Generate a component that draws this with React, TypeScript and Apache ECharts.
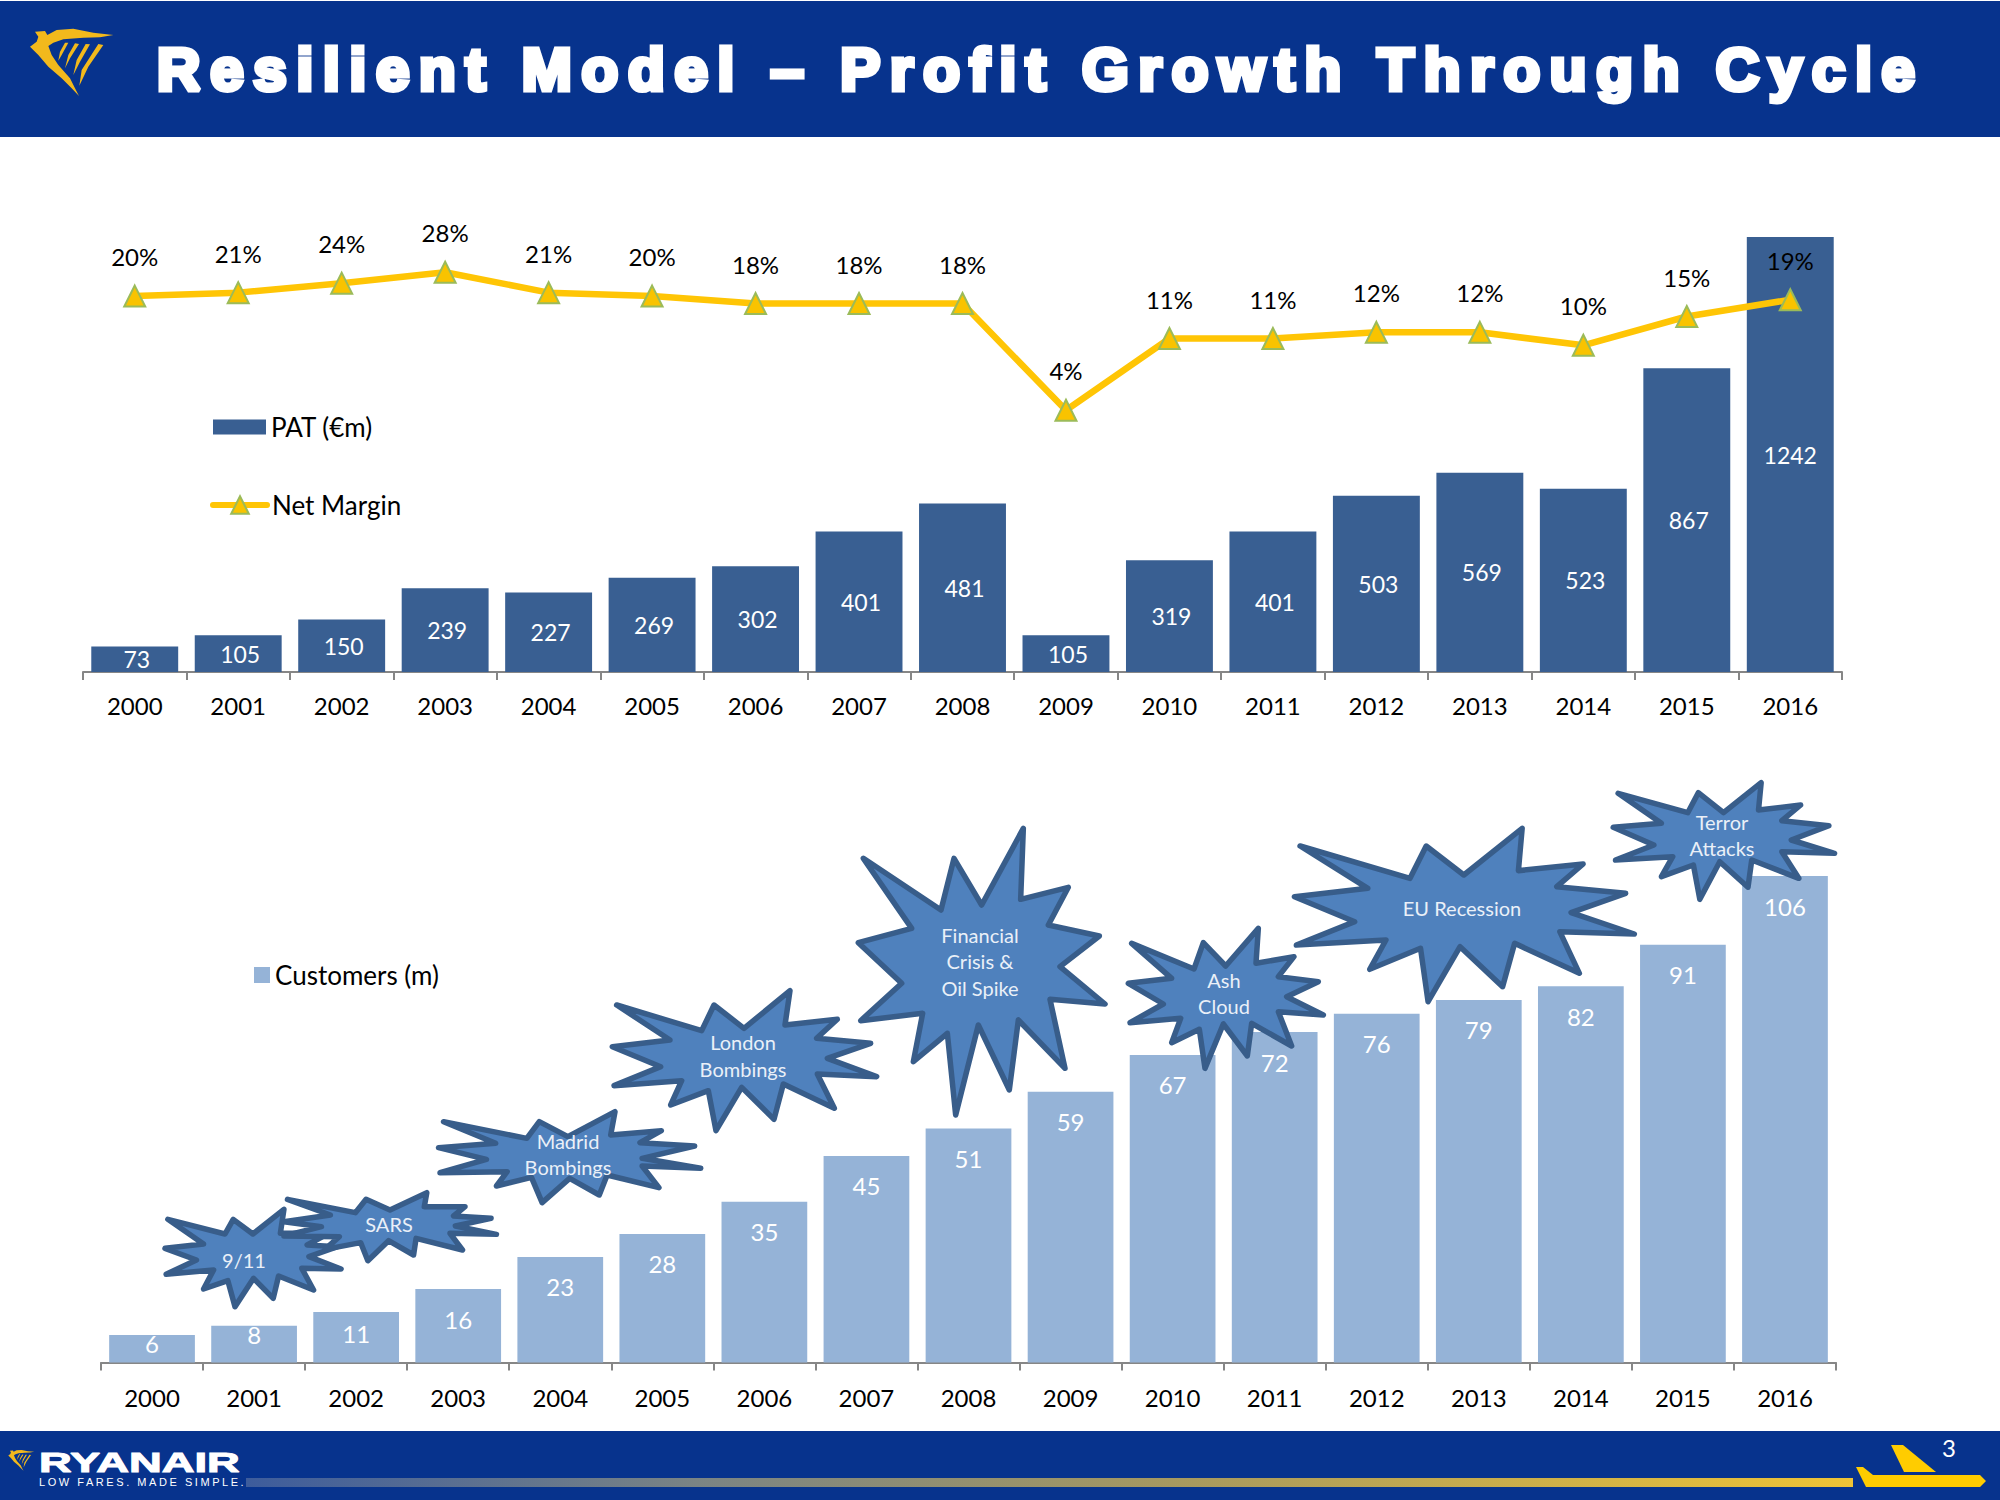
import React, { useEffect, useRef } from "react";
import * as echarts from "echarts";

const TITLE = "Resilient Model – Profit Growth Through Cycle";
const TAGLINE = "LOW FARES. MADE SIMPLE.";
const years = ["2000","2001","2002","2003","2004","2005","2006","2007","2008","2009","2010","2011","2012","2013","2014","2015","2016"];
const patValues = [73,105,150,239,227,269,302,401,481,105,319,401,503,569,523,867,1242];
const netMargin = [20,21,24,28,21,20,18,18,18,4,11,11,12,12,10,15,19];
const customers = [6,8,11,16,23,28,35,45,51,59,67,72,76,79,82,91,106];
const PAT = "PAT (€m)";
const NET = "Net Margin";
const CUST = "Customers (m)";

const FONT = "Lato";
const NAVY = "#07338D";
const GOLD = "#FFC505";

type Zoom = { ox: number; oy: number; sx: number; sy: number };
const conv = (z: Zoom, pts: number[][]) => pts.map(([x, y]) => [z.ox + x / z.sx, z.oy + y / z.sy]);

const Z5: Zoom = { ox: 830, oy: 800, sx: 3, sy: 3 };
const Z6: Zoom = { ox: 1270, oy: 760, sx: 2.657, sy: 3 };
const Z7: Zoom = { ox: 150, oy: 1090, sx: 2.8, sy: 3 };
const Z8: Zoom = { ox: 590, oy: 960, sx: 3, sy: 3 };
const ZH: Zoom = { ox: 20, oy: 20, sx: 3, sy: 3 };

const starShapes: { z: Zoom; pts: number[][] }[] = [
  { z: Z7, pts: [[375,358],[365,430],[500,430],[440,465],[525,470],[445,500],[535,537],[425,535],[458,600],[360,558],[345,625],[290,565],[238,650],[218,572],[150,597],[178,540],[45,553],[130,510],[42,475],[150,462],[50,388],[210,432],[233,388],[288,432]] },
  { z: Z7, pts: [[775,308],[768,350],[882,350],[850,378],[955,385],[855,408],[970,433],[840,430],[875,480],[745,445],[738,495],[668,452],[610,512],[590,458],[490,478],[530,440],[375,438],[480,410],[375,395],[505,375],[385,328],[575,368],[605,328],[672,360]] },
  { z: Z7, pts: [[1302,65],[1290,135],[1432,122],[1372,158],[1525,168],[1378,205],[1542,235],[1378,228],[1425,293],[1280,255],[1258,315],[1175,265],[1098,338],[1068,262],[970,288],[1000,245],[812,248],[942,208],[808,173],[968,160],[822,95],[1055,145],[1090,95],[1170,140]] },
  { z: Z8, pts: [[600,92],[585,195],[742,178],[680,235],[842,250],[712,295],[860,350],[682,342],[733,445],[580,372],[552,478],[455,382],[378,512],[355,392],[242,435],[275,362],[72,377],[212,320],[67,260],[240,240],[80,135],[335,212],[372,135],[462,205]] },
  { z: Z5, pts: [[580,85],[572,298],[715,262],[655,375],[808,408],[690,500],[825,612],[660,598],[705,805],[565,660],[538,870],[445,675],[377,945],[352,700],[250,785],[278,640],[92,662],[215,550],[85,428],[245,385],[100,175],[333,330],[372,175],[455,315]] },
  { z: Z5, pts: [[1285,385],[1278,490],[1392,470],[1345,530],[1465,545],[1370,590],[1480,645],[1345,635],[1385,738],[1265,670],[1252,768],[1180,672],[1125,805],[1108,688],[1025,728],[1052,655],[900,668],[1000,612],[895,550],[1025,535],[905,430],[1092,507],[1120,428],[1187,498]] },
  { z: Z6, pts: [[670,205],[660,332],[832,312],[762,380],[945,400],[800,458],[968,522],[770,515],[822,640],[650,550],[618,680],[505,560],[420,725],[400,565],[265,628],[308,540],[70,555],[225,485],[65,410],[260,385],[80,258],[372,355],[415,258],[515,345]] },
  { z: Z6, pts: [[1305,68],[1298,150],[1410,135],[1360,182],[1485,197],[1385,240],[1500,280],[1360,275],[1405,355],[1280,300],[1270,382],[1195,305],[1142,418],[1125,315],[1040,350],[1070,290],[918,300],[1020,255],[912,202],[1040,190],[925,100],[1110,158],[1138,98],[1205,158]] },
];

const starTexts: { t: string; x: number; y: number }[] = [
  { t: "9/11", x: 244, y: 1260 },
  { t: "SARS", x: 389, y: 1224 },
  { t: "Madrid", x: 568, y: 1141 },
  { t: "Bombings", x: 568, y: 1167 },
  { t: "London", x: 743, y: 1042 },
  { t: "Bombings", x: 743, y: 1069 },
  { t: "Financial", x: 980, y: 935 },
  { t: "Crisis &", x: 980, y: 961 },
  { t: "Oil Spike", x: 980, y: 988 },
  { t: "Ash", x: 1224, y: 980 },
  { t: "Cloud", x: 1224, y: 1006 },
  { t: "EU Recession", x: 1462, y: 908 },
  { t: "Terror", x: 1722, y: 822 },
  { t: "Attacks", x: 1722, y: 848 },
];

const harpParts: number[][][] = [
  [[45,35],[75,33],[82,45],[110,30],[160,26],[220,38],[280,45],[240,52],[190,53],[130,58],[100,68],[85,78],[95,105],[115,135],[150,175],[165,205],[177,228],[155,205],[125,175],[85,140],[55,105],[30,80],[50,65],[55,50]],
  [[135,68],[145,68],[125,105],[115,122],[120,95]],
  [[165,70],[177,72],[150,115],[135,145],[145,105]],
  [[197,72],[210,73],[180,125],[160,165],[170,120]],
  [[235,72],[250,75],[205,140],[178,197],[185,150]],
];
const harp = (x: number, y: number, s: number) => ({
  type: "group",
  x, y, scaleX: s, scaleY: s,
  children: harpParts.map((p) => ({ type: "polygon", z: 3, shape: { points: conv(ZH, p) }, style: { fill: "#F2B91C" } })),
});

export default function App() {
  const ref = useRef<HTMLDivElement>(null);
  useEffect(() => {
    const chart = echarts.init(ref.current!, undefined, { renderer: "svg" });
    const legendText = { fontFamily: FONT, fontSize: 26, color: "#000" };
    const axisCommon = {
      type: "category" as const,
      data: years,
      axisLine: { lineStyle: { color: "#868686", width: 2 } },
      axisTick: { show: true, alignWithLabel: false, length: 8, lineStyle: { color: "#868686", width: 2 } },
    };
    const axisLabel = { fontFamily: FONT, fontSize: 24, color: "#000", interval: 0 };
    chart.setOption({
      animation: false,
      backgroundColor: "#fff",
      title: {
        text: TITLE, left: 157, top: 39, padding: 0,
        textStyle: { fontFamily: "Liberation Sans", fontSize: 60, fontWeight: "bold", color: "#fff", textBorderColor: "#fff", textBorderWidth: 5 },
      },
      grid: [
        { left: 83, width: 1759, top: 237, height: 435 },
        { left: 101, width: 1735, top: 876, height: 486.5 },
      ],
      xAxis: [
        { ...axisCommon, gridIndex: 0, axisLabel: { ...axisLabel, margin: 21 } },
        { ...axisCommon, gridIndex: 1, axisLabel: { ...axisLabel, margin: 23 } },
      ],
      yAxis: [
        { type: "value", gridIndex: 0, min: 0, max: 1242, show: false, splitLine: { show: false } },
        { type: "log", gridIndex: 0, min: 0.1, max: 46, show: false, splitLine: { show: false } },
        { type: "value", gridIndex: 1, min: 0, max: 106, show: false, splitLine: { show: false } },
      ],
      legend: [
        {
          left: 213, top: 414, padding: 0, itemWidth: 53, itemHeight: 15,
          selectedMode: false, textStyle: legendText,
          data: [{ name: PAT, icon: "rect" }],
        },
        {
          left: 210, top: 492, padding: 0, itemWidth: 54, itemHeight: 22,
          selectedMode: false, textStyle: legendText, lineStyle: { width: 6, cap: "round" },
          data: [{ name: NET }],
        },
        {
          left: 254, top: 962, padding: 0, itemWidth: 16, itemHeight: 16,
          selectedMode: false, textStyle: legendText,
          data: [{ name: CUST, icon: "rect" }],
        },
      ],
      series: [
        {
          name: PAT, type: "bar", xAxisIndex: 0, yAxisIndex: 0,
          data: patValues.map((v) => (v > 1000 ? { value: v, label: { offset: [0, 0] } } : v)),
          barCategoryGap: "16%", itemStyle: { color: "#395F92" },
          label: { show: true, position: "inside", offset: [2, 0], color: "#fff", fontFamily: FONT, fontSize: 23 },
        },
        {
          name: NET, type: "line", xAxisIndex: 0, yAxisIndex: 1, data: netMargin,
          symbol: "triangle", symbolSize: 21, z: 5,
          lineStyle: { color: GOLD, width: 6.5 },
          itemStyle: { color: "#F9C300", borderColor: "#9BBB59", borderWidth: 2 },
          label: { show: true, position: "top", distance: 16, formatter: "{c}%", color: "#000", fontFamily: FONT, fontSize: 24 },
        },
        {
          name: CUST, type: "bar", xAxisIndex: 1, yAxisIndex: 2,
          data: customers.map((v) => {
            const shift = v < 10 ? -21 : v === 11 ? -9 : 0;
            return shift ? { value: v, label: { offset: [0, shift] } } : v;
          }),
          barCategoryGap: "16%", itemStyle: { color: "#95B3D7" },
          label: { show: true, position: "insideTop", distance: 18, color: "#fff", fontFamily: FONT, fontSize: 24 },
        },
      ],
      graphic: [
        { type: "rect", z: 0, shape: { x: 0, y: 1, width: 2000, height: 136 }, style: { fill: NAVY } },
        { type: "rect", z: 0, shape: { x: 0, y: 1431, width: 2000, height: 69 }, style: { fill: NAVY } },
        harp(0, 0, 1),
        harp(-1, 1441, 0.31),
        {
          type: "rect", z: 1, shape: { x: 246, y: 1478, width: 1607, height: 9 },
          style: {
            fill: new echarts.graphic.LinearGradient(0, 0, 1, 0, [
              { offset: 0, color: "#3D5C9C" },
              { offset: 0.28, color: "#7A8484" },
              { offset: 0.59, color: "#A89A5E" },
              { offset: 1, color: "#EFC436" },
            ]),
          },
        },
        { type: "polygon", z: 1, shape: { points: [[1891,1445],[1903,1445],[1936,1472],[1904,1472]] }, style: { fill: "#FFCC00" } },
        { type: "polygon", z: 1, shape: { points: [[1856,1467],[1863,1467],[1873,1475],[1980,1475],[1986,1481],[1980,1487],[1866,1487]] }, style: { fill: "#FFCC00" } },
        { type: "text", z: 2, x: 1949, y: 1447, style: { text: "3", fill: "#fff", font: `24px ${FONT}`, align: "center", verticalAlign: "middle" } },
        {
          type: "text", z: 2, x: 39, y: 1462, scaleX: 1.62,
          style: { text: "RYANAIR", fill: "#fff", stroke: "#fff", lineWidth: 1, font: `bold 28px "Liberation Sans"`, align: "left", verticalAlign: "middle" },
        },
        { type: "text", z: 2, x: 39, y: 1482, style: { text: TAGLINE, fill: "#fff", font: `11px "Liberation Sans"`, align: "left", verticalAlign: "middle" } },
        ...starShapes.map((s) => ({
          type: "polygon", z: 10,
          shape: { points: conv(s.z, s.pts) },
          style: { fill: "#4F81BD", stroke: "#385D8A", lineWidth: 5.5, lineJoin: "round" },
        })),
        ...starTexts.map((s) => ({
          type: "text", z: 11, x: s.x, y: s.y,
          style: { text: s.t, fill: "#EAF0F8", font: `20px ${FONT}`, align: "center", verticalAlign: "middle" },
        })),
      ],
    });
    ref.current!.querySelectorAll("text").forEach((el) => {
      if (el.textContent === TITLE) (el as SVGTextElement).style.letterSpacing = "9.8px";
      if (el.textContent === TAGLINE) (el as SVGTextElement).style.letterSpacing = "2.55px";
    });
    return () => chart.dispose();
  }, []);
  return <div ref={ref} style={{ position: "absolute", left: 0, top: 0, width: 2000, height: 1500 }} />;
}
